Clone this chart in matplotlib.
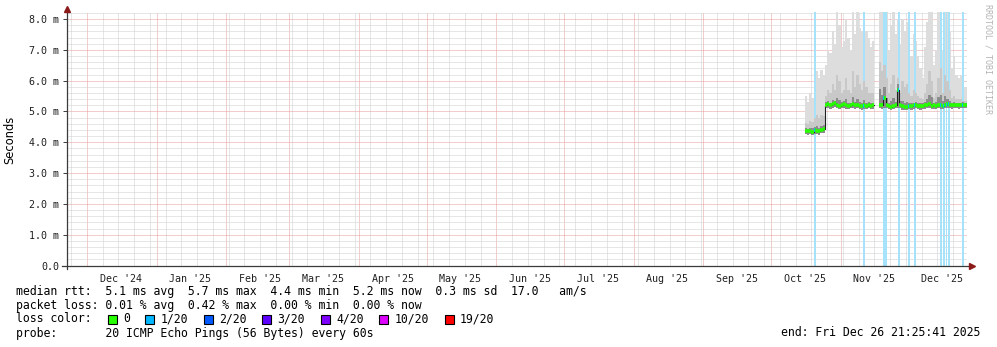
import numpy as np
import matplotlib
matplotlib.use("Agg")
import matplotlib.pyplot as plt
import matplotlib.dates as mdates
from matplotlib.patches import Rectangle
from datetime import datetime, timedelta

plt.rcParams['font.family'] = 'DejaVu Sans Mono'

# one value per day, starting 2025-10-16, in milliseconds
first_day = datetime(2025, 10, 16)
end_time = datetime(2025, 12, 26, 21, 25, 41)
nan = float('nan')

median = [4.38, 4.36, 4.37, 4.35, 4.39, 4.37, 4.36, 4.40, 4.42,
          5.22, 5.24, 5.20, 5.23, 5.26, 5.21, 5.19, 5.22, 5.25, 5.20, 5.18,
          5.21, 5.24, 5.20, 5.22, 5.19, 5.17, 5.20, 5.18, 5.21, 5.19, 5.20,
          nan, nan,
          5.22, 5.20, 5.44, 5.21, 5.18, 5.16, 5.19, 5.22, 5.70, 5.21, 5.17,
          5.15, 5.16, 5.18, 5.17, 5.20, 5.22, 5.19, 5.17, 5.18, 5.20, 5.21,
          5.24, 5.18, 5.20, 5.19, 5.22, 5.20, 5.18, 5.21, 5.23, 5.22, 5.20,
          5.21, 5.22, 5.20, 5.21, 5.22, 5.21]
smoke_min = [4.26, 4.25, 4.27, 4.24, 4.28, 4.26, 4.25, 4.29, 4.30,
             5.10, 5.12, 5.09, 5.11, 5.13, 5.10, 5.08, 5.10, 5.12, 5.09, 5.07,
             5.10, 5.12, 5.09, 5.10, 5.08, 5.06, 5.09, 5.07, 5.10, 5.08, 5.09,
             nan, nan,
             5.10, 5.09, 5.12, 5.10, 5.07, 5.05, 5.08, 5.10, 5.12, 5.10, 5.06,
             5.04, 5.05, 5.07, 5.06, 5.09, 5.10, 5.08, 5.06, 5.07, 5.09, 5.10,
             5.12, 5.07, 5.09, 5.08, 5.10, 5.09, 5.07, 5.10, 5.11, 5.10, 5.09,
             5.10, 5.11, 5.09, 5.10, 5.11, 5.10]
smoke_dark = [4.46, 4.44, 4.47, 4.45, 4.50, 4.52, 4.47, 4.53, 4.55,
              5.30, 5.34, 5.29, 5.38, 5.33, 5.45, 5.36, 5.30, 5.34, 5.42, 5.28,
              5.29, 5.47, 5.30, 5.42, 5.32, 5.27, 5.38, 5.28, 5.30, 5.28, 5.29,
              nan, nan,
              5.72, 5.55, 5.80, 5.45, 5.28, 5.33, 5.45, 5.31, 5.88, 5.34, 5.33,
              5.27, 5.30, 5.27, 5.26, 5.29, 5.31, 5.27, 5.26, 5.26, 5.30, 5.42,
              5.55, 5.46, 5.28, 5.30, 5.46, 5.52, 5.34, 5.50, 5.40, 5.33, 5.28,
              5.30, 5.29, 5.28, 5.29, 5.30, 5.29]
smoke_mid = [4.62, 4.58, 4.70, 4.66, 4.78, 4.90, 4.80, 4.88, 4.85,
             5.50, 5.70, 5.60, 5.90, 5.70, 6.20, 6.00, 5.60, 5.70, 6.10, 5.70,
             5.60, 6.30, 5.80, 6.20, 5.90, 5.70, 6.00, 5.80, 5.60, 5.60, 5.60,
             nan, nan,
             6.60, 6.30, 6.50, 6.10, 5.60, 5.90, 6.20, 5.70, 6.10, 5.60, 6.00,
             5.80, 5.90, 5.60, 5.50, 5.70, 5.60, 5.50, 5.45, 5.40, 5.60, 5.90,
             6.30, 6.00, 5.45, 5.60, 6.10, 6.40, 5.60, 6.20, 6.00, 5.70, 5.45,
             5.50, 5.40, 5.40, 5.40, 5.35, 5.35]
smoke_max = [5.50, 5.30, 5.60, 5.45, 5.90, 6.30, 6.10, 6.35, 6.20,
             6.50, 7.00, 6.90, 7.60, 7.20, 8.30, 7.80, 7.10, 7.30, 8.00, 7.40,
             7.00, 8.30, 7.50, 8.30, 7.70, 7.60, 8.00, 7.60, 7.40, 7.10, 7.30,
             nan, nan,
             8.30, 8.30, 8.30, 8.30, 7.00, 7.80, 8.30, 7.50, 8.00, 7.20, 8.00,
             7.60, 7.90, 7.00, 6.80, 7.50, 7.30, 6.80, 6.40, 6.10, 7.10, 7.90,
             8.30, 8.30, 6.50, 7.00, 8.30, 8.30, 7.00, 8.30, 8.30, 7.60, 6.40,
             6.80, 6.20, 6.10, 6.20, 5.90, 5.80]

# times with 1/20 packet loss (start, hours)
loss_events = [("2025-10-20 08:00", 18), ("2025-11-10 22:00", 18),
               ("2025-11-20 00:00", 38), ("2025-11-26 16:00", 18),
               ("2025-12-01 00:00", 18), ("2025-12-03 16:00", 18),
               ("2025-12-15 06:00", 18), ("2025-12-16 14:00", 18),
               ("2025-12-17 16:00", 18), ("2025-12-18 18:00", 18),
               ("2025-12-24 22:00", 18)]

loss_names = ["0", "1/20", "2/20", "3/20", "4/20", "10/20", "19/20"]
loss_colors = ["#26ff00", "#00b8ff", "#0059ff", "#5e00ff", "#7e00ff", "#dd00ff", "#ff0000"]

y_ticks = [0, 1, 2, 3, 4, 5, 6, 7, 8]
y_tick_labels = ["0.0", "1.0 m", "2.0 m", "3.0 m", "4.0 m", "5.0 m", "6.0 m", "7.0 m", "8.0 m"]

legend_lines = [
    "median rtt:  5.1 ms avg  5.7 ms max  4.4 ms min  5.2 ms now  0.3 ms sd  17.0   am/s",
    "packet loss: 0.01 % avg  0.42 % max  0.00 % min  0.00 % now",
    "loss color:",
    "probe:       20 ICMP Echo Pings (56 Bytes) every 60s",
]
end_text = "end: Fri Dec 26 21:25:41 2025"

W, H = 997, 347
fig = plt.figure(figsize=(W / 100, H / 100), dpi=100)
L, R, T, B = 66.5, 966.5, 12, 265.5
ax = fig.add_axes([L / W, 1 - B / H, (R - L) / W, (B - T) / H])

start_time = end_time - timedelta(days=400)
ax.set_xlim(mdates.date2num(start_time), mdates.date2num(end_time))
ax.set_ylim(0, 8.23)

n = len(median)
edges = [first_day + timedelta(days=i) for i in range(n)] + [end_time]
xe = mdates.date2num(edges)
x0, widths = xe[:-1], np.diff(xe)

median = np.array(median)
smoke_min = np.array(smoke_min)

# grid
ax.set_axisbelow(True)
ax.xaxis.set_major_locator(mdates.MonthLocator(bymonthday=1))
ax.xaxis.set_minor_locator(mdates.WeekdayLocator(byweekday=mdates.SU))
ax.yaxis.set_major_locator(matplotlib.ticker.FixedLocator(y_ticks))
ax.yaxis.set_minor_locator(matplotlib.ticker.MultipleLocator(0.2))
ax.grid(which='minor', color='#cfcfcf', linestyle=(0, (1, 1)), linewidth=0.72)
ax.grid(which='major', color='#e99a9a', linestyle=(0, (1, 1)), linewidth=0.72)
ax.set_xticklabels([])
ax.tick_params(axis='x', which='both', length=0)
ax.tick_params(axis='y', which='minor', length=0)
ax.tick_params(axis='y', which='major', length=2.9, width=0.72, color='#404040',
               pad=2.2, labelsize=7.2, labelcolor='#202020')
ax.set_yticklabels(y_tick_labels)
for s in ax.spines.values():
    s.set_visible(False)

# smoke
ax.bar(x0, np.array(smoke_max) - smoke_min, bottom=smoke_min, width=widths, align='edge',
       color='#dddddd', linewidth=0, antialiased=False, zorder=1)

# loss background stripes
for t, hours in loss_events:
    ts = datetime.strptime(t, "%Y-%m-%d %H:%M")
    ax.axvspan(mdates.date2num(ts), mdates.date2num(ts + timedelta(hours=hours)),
               color='#a6e3fa', linewidth=0, antialiased=False, zorder=1.5)

ax.bar(x0, np.array(smoke_mid) - smoke_min, bottom=smoke_min, width=widths, align='edge',
       color='#c8c8c8', linewidth=0, antialiased=False, zorder=2)
ax.bar(x0, np.array(smoke_dark) - smoke_min, bottom=smoke_min, width=widths, align='edge',
       color='#8c8c8c', linewidth=0, antialiased=False, zorder=2.1)

# median
ax.plot(xe, np.append(median, median[-1]), drawstyle='steps-post', color='#202020',
        linewidth=0.8, zorder=3)
ax.hlines(median, x0, xe[1:], colors=loss_colors[0], linewidth=2.6, zorder=3.2)
for t, hours in loss_events:
    ts = datetime.strptime(t, "%Y-%m-%d %H:%M")
    i = (ts - first_day).days
    if 0 <= i < n and not np.isnan(median[i]):
        ax.hlines(median[i], mdates.date2num(ts), mdates.date2num(ts + timedelta(hours=10)),
                  colors=loss_colors[1], linewidth=2.6, zorder=3.3)

# month labels, centred mid-month
for yr, mo in [(2024, 12)] + [(2025, m) for m in range(1, 13)]:
    d = datetime(yr, mo, 16)
    ax.text(mdates.date2num(d), -0.034, d.strftime("%b '%y"), transform=ax.get_xaxis_transform(),
            ha='center', va='top', fontsize=7.2, color='#202020')

# axes with arrows
ax_col = '#3a3a3a'
arr_col = '#8b1a1a'
ax.plot([-0.005, 1.0039], [0, 0], transform=ax.transAxes, color=ax_col, lw=0.9, clip_on=False, zorder=5)
ax.plot([0.0006, 0.0006], [-0.014, 1.0], transform=ax.transAxes, color=ax_col, lw=0.9, clip_on=False, zorder=5)
ax.plot([1.0058], [0], marker='>', ms=4, color=arr_col, transform=ax.transAxes, clip_on=False, zorder=6)
ax.plot([0.0006], [1.01], marker='^', ms=4, color=arr_col, transform=ax.transAxes, clip_on=False, zorder=6)

fig.text(10 / W, 1 - 140 / H, "Seconds", rotation=90, ha='center', va='center',
         fontsize=8.3, family='DejaVu Sans')
fig.text(988 / W, 1 - 4 / H, "RRDTOOL / TOBI OETIKER", rotation=-90, ha='center', va='top',
         fontsize=6, color='#b4b4b4')

# legend
rows = [291, 305, 319, 333]
for text, yy in zip(legend_lines, rows):
    fig.text(16 / W, 1 - yy / H, text, ha='left', va='center', fontsize=8.3)
bx = 107.5
for name, col in zip(loss_names, loss_colors):
    fig.patches.append(Rectangle((bx / W, 1 - 323.5 / H), 9 / W, 9 / H, transform=fig.transFigure,
                                 facecolor=col, edgecolor='black', linewidth=0.8))
    fig.text((bx + 15.5) / W, 1 - 319 / H, name, ha='left', va='center', fontsize=8.3)
    bx += 30.5 + 7.0 * len(name)
fig.text(980 / W, 1 - 333 / H, end_text, ha='right', va='center', fontsize=8.3)

fig.savefig("out.png", dpi=100)
